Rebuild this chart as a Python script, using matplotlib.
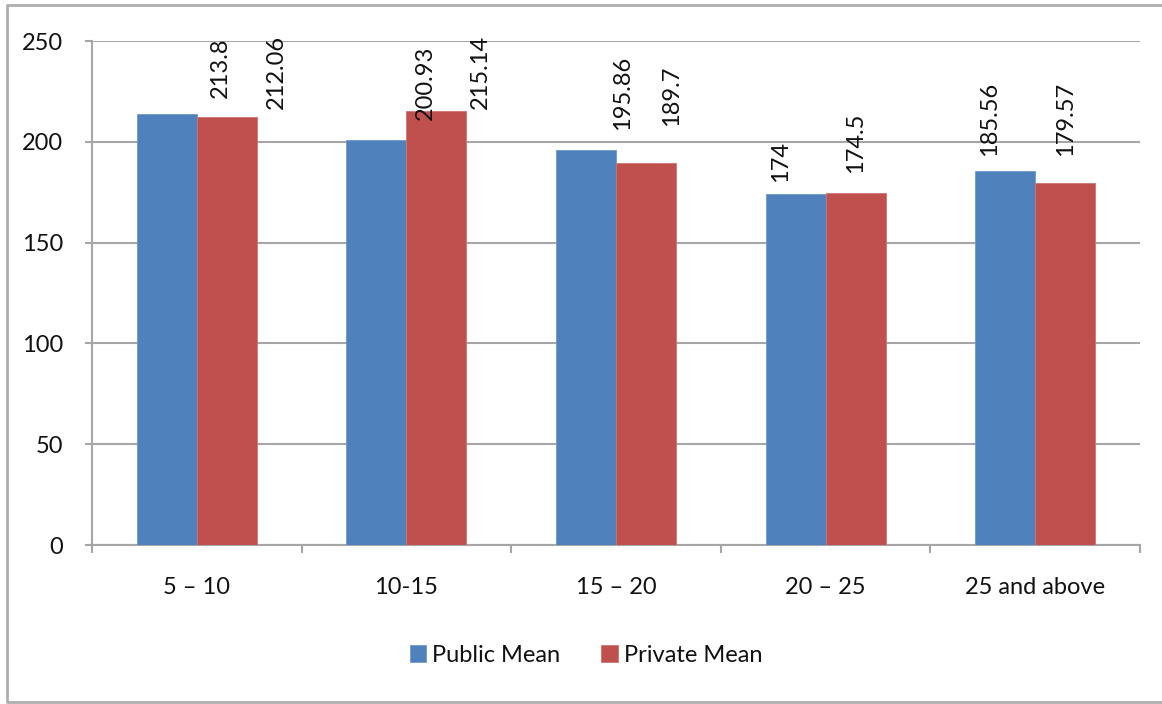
import matplotlib
matplotlib.use("Agg")
import matplotlib.pyplot as plt
from matplotlib.lines import Line2D
import numpy as np

categories = ["5 \u2013 10", "10-15", "15 \u2013 20", "20 \u2013 25", "25 and above"]
public_mean = [213.8, 200.93, 195.86, 174, 185.56]
private_mean = [212.06, 215.14, 189.7, 174.5, 179.57]
public_labels = ["213.8", "200.93", "195.86", "174", "185.56"]
private_labels = ["212.06", "215.14", "189.7", "174.5", "179.57"]
y_ticks = [0, 50, 100, 150, 200, 250]

# label offsets (pixels) relative to bar top-centre, as arranged in the original chart
pub_dx = [54, 49, 37, -15, -16]
pub_dy = [16, 20, 20, 12, 15]
prv_dx = [50, 44, 26, 0, 0]
prv_dy = [8, 2, 37, 20, 27]

BLUE = "#4F81BD"
RED = "#C0504D"
GRID = "#A6A6A6"
TEXT = "#111111"

plt.rcParams['font.family'] = ['Lato', 'DejaVu Sans']
FS = 17

W, H = 1162, 704
fig = plt.figure(figsize=(W / 100, H / 100), dpi=100)
fig.patch.set_facecolor("white")

# outer chart border (left, top, bottom; right edge lies beyond the image)
bx = [1200 / W, 7 / W, 7 / W, 1200 / W]
by = [1 - 5 / H, 1 - 5 / H, 1 - 702 / H, 1 - 702 / H]
fig.add_artist(Line2D(bx, by, transform=fig.transFigure, color="#AFAFAF",
                      linewidth=2.0, clip_on=False))

ax = fig.add_axes([92 / W, 1 - 545 / H, (1140 - 92) / W, (545 - 41) / H])

n = len(categories)
x = np.arange(n)
bw = 60 / 209.6
ax.bar(x - bw / 2, public_mean, bw, color=BLUE, edgecolor="#6E98CB",
       linewidth=0.6, label="Public Mean", zorder=3)
ax.bar(x + bw / 2, private_mean, bw, color=RED, edgecolor="#CF7472",
       linewidth=0.6, label="Private Mean", zorder=3)

ax.set_xlim(-0.5, n - 0.5)
ax.set_ylim(0, 250)

ax.set_yticks(y_ticks)
ax.set_yticklabels([str(v) for v in y_ticks], fontsize=FS, color=TEXT)
ax.yaxis.grid(True, color=GRID, linewidth=1.5, zorder=0)
ax.set_axisbelow(True)

ax.set_xticks(np.arange(-0.5, n, 1.0))
ax.set_xticklabels([])
ax.set_xticks(x, minor=True)
ax.set_xticklabels(categories, minor=True, fontsize=FS, color=TEXT)
ax.tick_params(axis="x", which="major", length=6, width=1.5, color=GRID, direction="out")
ax.tick_params(axis="x", which="minor", length=0, pad=23)
ax.tick_params(axis="y", length=5, width=1.5, color=GRID, direction="out", pad=16)

for s in ["top", "right"]:
    ax.spines[s].set_visible(False)
for s in ["left", "bottom"]:
    ax.spines[s].set_color(GRID)
    ax.spines[s].set_linewidth(1.5)

px2pt = 72 / 100
for i in range(n):
    ax.annotate(public_labels[i], xy=(x[i] - bw / 2, public_mean[i]),
                xytext=(pub_dx[i] * px2pt, pub_dy[i] * px2pt),
                textcoords="offset points", rotation=90, ha="center", va="bottom",
                fontsize=FS, color=TEXT, annotation_clip=False, zorder=5)
    ax.annotate(private_labels[i], xy=(x[i] + bw / 2, private_mean[i]),
                xytext=(prv_dx[i] * px2pt, prv_dy[i] * px2pt),
                textcoords="offset points", rotation=90, ha="center", va="bottom",
                fontsize=FS, color=TEXT, annotation_clip=False, zorder=5)

leg = fig.legend(loc="center", bbox_to_anchor=(586 / W, 1 - 655 / H), ncol=2,
                 frameon=False, fontsize=FS, handlelength=0.7, handleheight=0.7,
                 handletextpad=0.25, columnspacing=1.75)
for t in leg.get_texts():
    t.set_color(TEXT)

fig.savefig("out.png", dpi=100, facecolor="white")
